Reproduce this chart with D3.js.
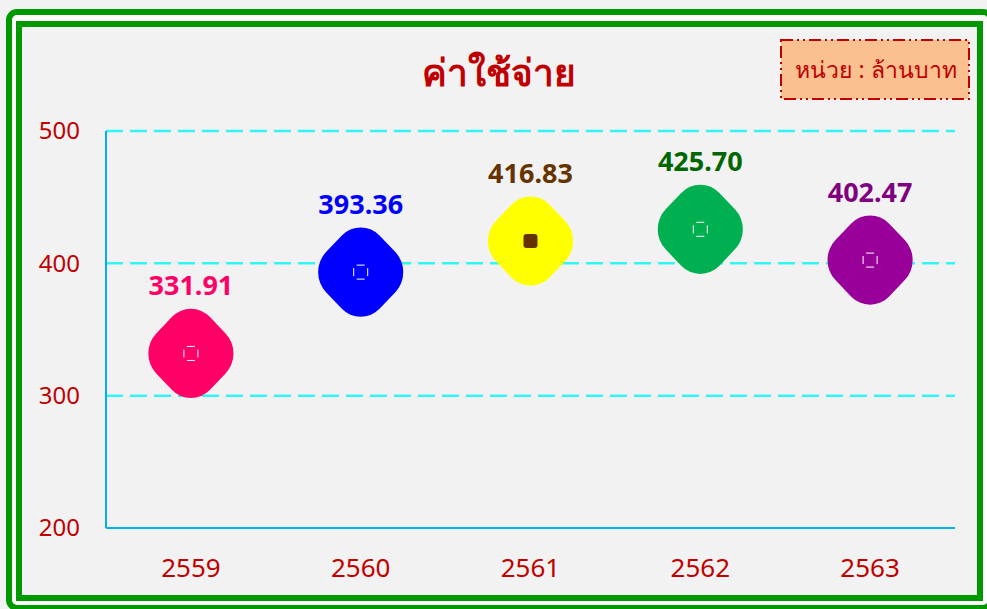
<!DOCTYPE html>
<html>
<head>
<meta charset="utf-8">
<script src="https://cdn.jsdelivr.net/npm/d3@7"></script>
<style>
  body { margin: 0; background: #f2f2f2; }
  text { font-family: "Noto Sans", "DejaVu Sans", sans-serif; }
</style>
</head>
<body>
<div id="chart"></div>
<script>
// Chart data
var years = ["2559", "2560", "2561", "2562", "2563"];
var expenses = [331.91, 393.36, 416.83, 425.70, 402.47];
var markerColors = ["#ff0066", "#0000ff", "#ffff00", "#00b050", "#990099"];
var labelColors = ["#ff0066", "#0000ff", "#663300", "#006600", "#800080"];
var yTicks = [200, 300, 400, 500];
var titleText = "ค่าใช้จ่าย";
var unitText = "หน่วย : ล้านบาท";

var svgWidth = 987;
var svgHeight = 609;

var margin = { top: 131, right: 32, bottom: 81, left: 106 };
var width = svgWidth - margin.left - margin.right;
var height = svgHeight - margin.top - margin.bottom;

var svg = d3.select("#chart").append("svg")
  .attr("width", svgWidth)
  .attr("height", svgHeight)
  .style("display", "block");

// Frames
svg.append("rect")
  .attr("x", 9).attr("y", 12)
  .attr("width", 982).attr("height", 596)
  .attr("rx", 8)
  .attr("fill", "#ffffff")
  .attr("stroke", "#009900")
  .attr("stroke-width", 6);

svg.append("rect")
  .attr("x", 19).attr("y", 24)
  .attr("width", 961).attr("height", 574)
  .attr("fill", "#f2f2f2")
  .attr("stroke", "#009900")
  .attr("stroke-width", 6);

var chartGroup = svg.append("g")
  .attr("transform", `translate(${margin.left}, ${margin.top})`);

// Scales
var xScale = d3.scaleBand()
  .domain(years)
  .range([0, width]);

var yScale = d3.scaleLinear()
  .domain([200, 500])
  .range([height, 0]);

// Grid lines
chartGroup.selectAll(".grid")
  .data(yTicks.filter(d => d > 200))
  .enter()
  .append("line")
  .attr("x1", 0)
  .attr("x2", width)
  .attr("y1", d => yScale(d))
  .attr("y2", d => yScale(d))
  .attr("stroke", "#33f5f5")
  .attr("stroke-width", 2.5)
  .attr("stroke-dasharray", "17,7");

// Axes
var leftAxis = d3.axisLeft(yScale).tickValues(yTicks).tickSize(0).tickPadding(26);
var bottomAxis = d3.axisBottom(xScale).tickSize(0).tickPadding(31);

var yAxis = chartGroup.append("g").call(leftAxis);
yAxis.select(".domain").remove();
yAxis.selectAll("text")
  .attr("fill", "#c00000")
  .attr("font-size", "24px");

var xAxis = chartGroup.append("g")
  .attr("transform", `translate(0, ${height})`)
  .call(bottomAxis);
xAxis.select(".domain").remove();
xAxis.selectAll("text")
  .attr("fill", "#c00000")
  .attr("font-size", "26px");

chartGroup.append("line")
  .attr("x1", 0).attr("x2", 0)
  .attr("y1", 0).attr("y2", height)
  .attr("stroke", "#00b0f0")
  .attr("stroke-width", 2);

chartGroup.append("line")
  .attr("x1", 0).attr("x2", width)
  .attr("y1", height).attr("y2", height)
  .attr("stroke", "#00b0f0")
  .attr("stroke-width", 2);

// Markers
var points = chartGroup.selectAll(".point")
  .data(expenses)
  .enter()
  .append("g")
  .attr("transform", (d, i) => `translate(${xScale(years[i]) + xScale.bandwidth() / 2}, ${yScale(d)})`);

points.append("rect")
  .attr("x", -38).attr("y", -38)
  .attr("width", 76).attr("height", 76)
  .attr("rx", 27)
  .attr("transform", "scale(1, 1.05) rotate(45)")
  .attr("fill", (d, i) => markerColors[i]);

points.append("rect")
  .attr("x", -7).attr("y", -7)
  .attr("width", 14).attr("height", 14)
  .attr("rx", (d, i) => i === 2 ? 3 : 0)
  .attr("fill", (d, i) => i === 2 ? "#663300" : "none")
  .attr("stroke", (d, i) => i === 2 ? "none" : "#ffffff")
  .attr("stroke-width", 1)
  .attr("stroke-dasharray", "8,6")
  .attr("stroke-dashoffset", 11);

// Value labels
points.append("text")
  .attr("y", -58)
  .attr("text-anchor", "middle")
  .attr("font-size", "27px")
  .attr("font-weight", "bold")
  .attr("fill", (d, i) => labelColors[i])
  .text(d => d.toFixed(2));

// Title
svg.append("text")
  .attr("x", 499)
  .attr("y", 86)
  .attr("text-anchor", "middle")
  .attr("font-size", "37px")
  .attr("font-weight", "bold")
  .attr("fill", "#c00000")
  .text(titleText);

// Unit box
svg.append("rect")
  .attr("x", 781).attr("y", 40)
  .attr("width", 188).attr("height", 59)
  .attr("fill", "#fac090")
  .attr("stroke", "#c00000")
  .attr("stroke-width", 2)
  .attr("stroke-dasharray", "12,4,2,4,2,4");

svg.append("text")
  .attr("x", 876)
  .attr("y", 78)
  .attr("text-anchor", "middle")
  .attr("font-size", "23px")
  .attr("fill", "#c00000")
  .text(unitText);
</script>
</body>
</html>
